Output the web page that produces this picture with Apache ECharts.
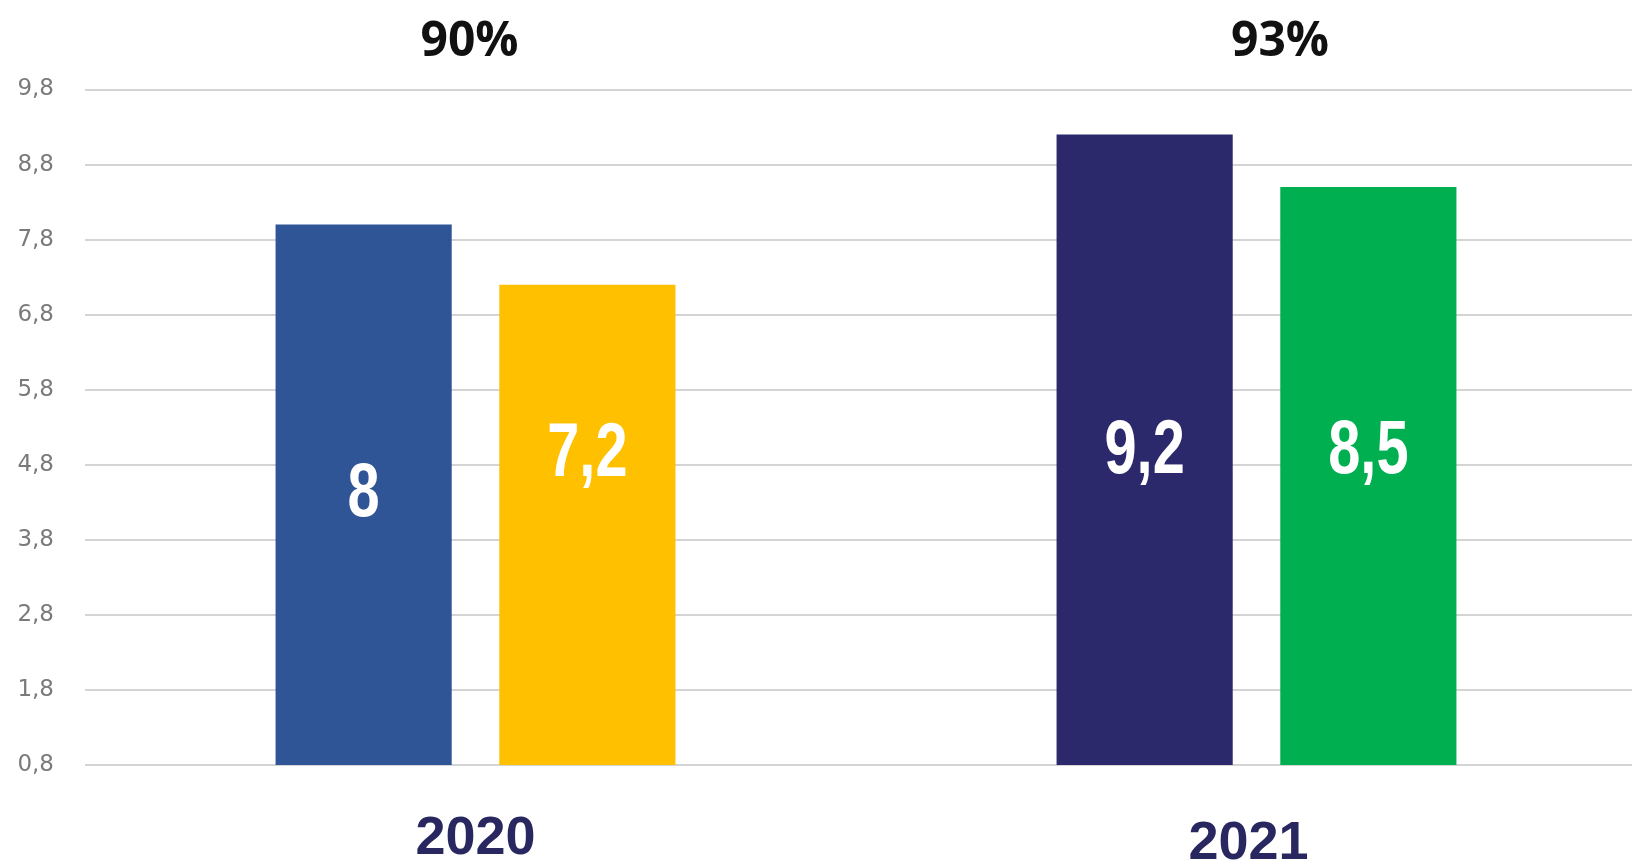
<!DOCTYPE html>
<html>
<head>
<meta charset="utf-8">
<script src="https://cdn.jsdelivr.net/npm/echarts@6/dist/echarts.min.js"></script>
<style>
html,body{margin:0;padding:0;background:#fff;}
#chart{width:1632px;height:861px;}
</style>
</head>
<body>
<div id="chart"></div>
<script>
// ---- data ----
const categories = ['2020', '2021'];
const topLabels = ['90%', '93%'];
const seriesA = [8, 9.2];      // first bar of each year
const seriesB = [7.2, 8.5];    // second bar of each year
const yMin = 0.8, yMax = 9.8, yStep = 1;

// ---- style ----
const colorsA = ['#2F5597', '#2B286C'];
const colorsB = ['#FFC000', '#00B050'];
const liftA = [270, 313];      // px of value label centre above the base line
const liftB = [310, 313];
const BAR_GAP = 0.27;
const CAT_GAP = 0.488;

const fmt = v => String(Math.round(v * 10) / 10).replace('.', ',');

function barData(vals, colors) {
  return vals.map((v, i) => ({ value: v, itemStyle: { color: colors[i] } }));
}

function labelSeries(vals, side, lifts) {
  return {
    type: 'custom',
    xAxisIndex: 0,
    yAxisIndex: 0,
    silent: true,
    z: 10,
    data: vals.map((v, i) => [i, v]),
    encode: { x: 0, y: 1 },
    renderItem: (params, api) => {
      const idx = api.value(0);
      const v = api.value(1);
      const band = api.size([1, 0])[0];
      const bw = band * (1 - CAT_GAP) / (2 + BAR_GAP);
      const off = side * bw * (1 + BAR_GAP) / 2;
      const base = api.coord([idx, yMin]);
      return {
        type: 'text',
        x: base[0] + off,
        y: base[1] - lifts[idx],
        scaleX: 0.76,
        style: {
          text: fmt(v),
          x: 0, y: 0,
          fill: '#ffffff',
          font: "bold 76px 'Liberation Sans', Arial, sans-serif",
          align: 'center', verticalAlign: 'middle',
          textAlign: 'center', textVerticalAlign: 'middle'
        }
      };
    }
  };
}

const chart = echarts.init(document.getElementById('chart'), null, { renderer: 'canvas' });
chart.setOption({
  animation: false,
  backgroundColor: '#ffffff',
  grid: { left: 85, right: -15, top: 89.5, bottom: 96, containLabel: false, outerBoundsMode: 'none' },
  xAxis: [
    {
      type: 'category',
      data: categories,
      position: 'bottom',
      axisLine: { show: false },
      axisTick: { show: false },
      axisLabel: {
        margin: 47,
        formatter: (v, i) => i === 1 ? '{b|' + v + '}' : '{a|' + v + '}',
        rich: {
          a: { fontSize: 54, fontWeight: 'bold', fontFamily: "'Liberation Sans', Arial, sans-serif", color: '#29275F' },
          b: { fontSize: 54, fontWeight: 'bold', fontFamily: "'Liberation Sans', Arial, sans-serif", color: '#29275F', padding: [5, 16, 0, 0] }
        }
      }
    },
    {
      type: 'category',
      data: topLabels,
      position: 'top',
      axisLine: { show: false },
      axisTick: { show: false },
      axisLabel: {
        margin: 23,
        formatter: (v, i) => i === 1 ? '{b|' + v + '}' : '{a|' + v + '}',
        rich: {
          a: { fontSize: 48, fontWeight: 'bold', fontFamily: "'Open Sans', sans-serif", color: '#111111', padding: [0, 12, 0, 0] },
          b: { fontSize: 48, fontWeight: 'bold', fontFamily: "'Open Sans', sans-serif", color: '#111111', padding: [0, 0, 0, 47] }
        }
      }
    }
  ],
  yAxis: {
    type: 'value',
    min: yMin,
    max: yMax,
    interval: yStep,
    axisLine: { show: false },
    axisTick: { show: false },
    axisLabel: {
      margin: 31,
      fontSize: 23,
      fontFamily: "'DejaVu Sans', Verdana, sans-serif",
      color: '#7a7a7a',
      formatter: v => fmt(v)
    },
    splitLine: { show: true, lineStyle: { color: '#D4D4D4', width: 2 } }
  },
  series: [
    {
      type: 'bar',
      barGap: (BAR_GAP * 100) + '%',
      barCategoryGap: (CAT_GAP * 100) + '%',
      data: barData(seriesA, colorsA)
    },
    {
      type: 'bar',
      barGap: (BAR_GAP * 100) + '%',
      barCategoryGap: (CAT_GAP * 100) + '%',
      data: barData(seriesB, colorsB)
    },
    labelSeries(seriesA, -1, liftA),
    labelSeries(seriesB, 1, liftB)
  ]
});
</script>
</body>
</html>
